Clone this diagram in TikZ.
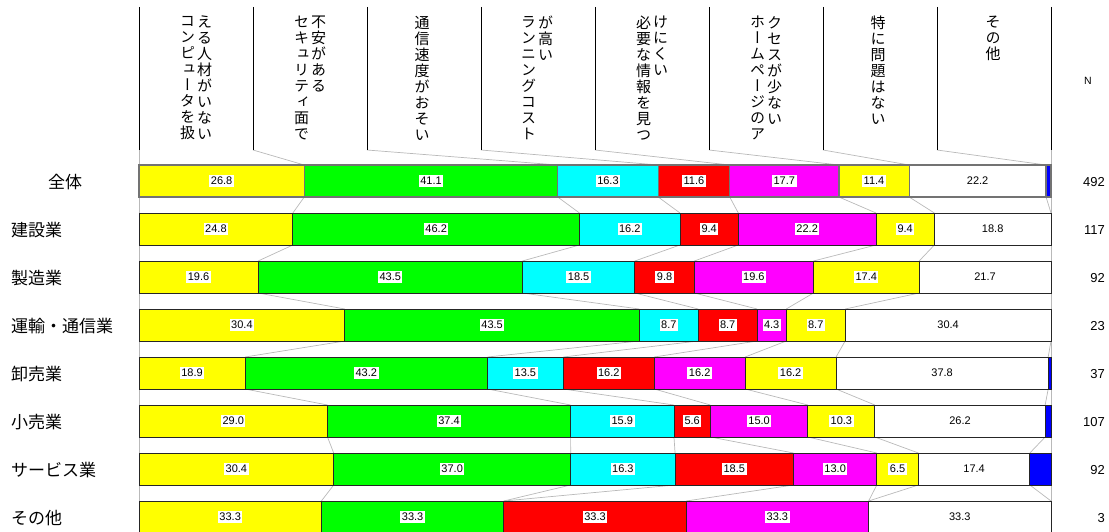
\documentclass[tikz,border=0pt]{standalone}
\usepackage{fontspec}
\setmainfont{Liberation Sans}
\newfontfamily\jpfont{Noto Sans CJK JP}
\newfontfamily\jpvert[RawFeature=+vert]{Noto Sans CJK JP}
\usetikzlibrary{calc}

\definecolor{cyel}{RGB}{255,255,0}
\definecolor{cgrn}{RGB}{0,255,0}
\definecolor{ccya}{RGB}{0,255,255}
\definecolor{cred}{RGB}{255,0,0}
\definecolor{cmag}{RGB}{255,0,255}
\definecolor{cblu}{RGB}{0,0,255}

\tikzset{
  segnormal/.style={draw=black!85, line width=0.9pt},
  segtotal/.style={draw=black!55, line width=1.3pt},
  segcur/.style={segnormal},
  conn/.style={draw=gray!55, line width=0.7pt},
  hline/.style={draw=black, line width=0.9pt},
  vallabel/.style={fill=white, inner xsep=1.5pt, inner ysep=2pt, text depth=0pt, font=\fontsize{11}{11}\selectfont},
  hdr/.style={anchor=north, inner sep=0pt, align=center, font=\jpvert\fontsize{15}{16}\selectfont},
  rowlab/.style={inner sep=0pt, font=\jpfont\fontsize{17}{17}\selectfont},
  cnt/.style={anchor=east, inner sep=0pt, font=\fontsize{13}{13}\selectfont},
}

% #1 row, #2 left index, #3 right index, #4 colour, #5 value, #6 label? (1/0)
\newcommand\segbox[6]{%
  \ifdim #5pt>0pt
    \path[fill=#4, segcur] (t#1-#2) rectangle (u#1-#3);
    \ifnum#6=1
      \node[vallabel] (v#1-#2) at ($(t#1-#2)!0.5!(u#1-#3)$) {#5};
    \fi
  \fi}

% #1 row, #2..#9 values
\newcommand\barrow[9]{%
  \pgfmathsetmacro\tot{#2+#3+#4+#5+#6+#7+#8+#9}%
  \pgfmathsetmacro\yt{165+48*#1}%
  \pgfmathsetmacro\yb{\yt+32}%
  \pgfmathsetmacro\xa{139}%
  \pgfmathsetmacro\xb{139+912*((#2)/\tot)}%
  \pgfmathsetmacro\xc{139+912*((#2+#3)/\tot)}%
  \pgfmathsetmacro\xd{139+912*((#2+#3+#4)/\tot)}%
  \pgfmathsetmacro\xe{139+912*((#2+#3+#4+#5)/\tot)}%
  \pgfmathsetmacro\xf{139+912*((#2+#3+#4+#5+#6)/\tot)}%
  \pgfmathsetmacro\xg{139+912*((#2+#3+#4+#5+#6+#7)/\tot)}%
  \pgfmathsetmacro\xh{139+912*((#2+#3+#4+#5+#6+#7+#8)/\tot)}%
  \pgfmathsetmacro\xi{1051}%
  \coordinate (t#1-0) at (\xa,\yt); \coordinate (u#1-0) at (\xa,\yb);
  \coordinate (t#1-1) at (\xb,\yt); \coordinate (u#1-1) at (\xb,\yb);
  \coordinate (t#1-2) at (\xc,\yt); \coordinate (u#1-2) at (\xc,\yb);
  \coordinate (t#1-3) at (\xd,\yt); \coordinate (u#1-3) at (\xd,\yb);
  \coordinate (t#1-4) at (\xe,\yt); \coordinate (u#1-4) at (\xe,\yb);
  \coordinate (t#1-5) at (\xf,\yt); \coordinate (u#1-5) at (\xf,\yb);
  \coordinate (t#1-6) at (\xg,\yt); \coordinate (u#1-6) at (\xg,\yb);
  \coordinate (t#1-7) at (\xh,\yt); \coordinate (u#1-7) at (\xh,\yb);
  \coordinate (t#1-8) at (\xi,\yt); \coordinate (u#1-8) at (\xi,\yb);
}
\newcommand\barfill[9]{%
  \segbox{#1}{0}{1}{cyel}{#2}{1}%
  \segbox{#1}{1}{2}{cgrn}{#3}{1}%
  \segbox{#1}{2}{3}{ccya}{#4}{1}%
  \segbox{#1}{3}{4}{cred}{#5}{1}%
  \segbox{#1}{4}{5}{cmag}{#6}{1}%
  \segbox{#1}{5}{6}{cyel}{#7}{1}%
  \segbox{#1}{6}{7}{white}{#8}{1}%
  \segbox{#1}{7}{8}{cblu}{#9}{0}%
}

\begin{document}
\begin{tikzpicture}[x=1pt,y=-1pt]
\useasboundingbox (0,0) rectangle (1109,532);

% coordinates of all bars
\barrow{0}{26.8}{41.1}{16.3}{11.6}{17.7}{11.4}{22.2}{0.8}
\barrow{1}{24.8}{46.2}{16.2}{9.4}{22.2}{9.4}{18.8}{0}
\barrow{2}{19.6}{43.5}{18.5}{9.8}{19.6}{17.4}{21.7}{0}
\barrow{3}{30.4}{43.5}{8.7}{8.7}{4.3}{8.7}{30.4}{0}
\barrow{4}{18.9}{43.2}{13.5}{16.2}{16.2}{16.2}{37.8}{0.5}
\barrow{5}{29.0}{37.4}{15.9}{5.6}{15.0}{10.3}{26.2}{0.9}
\barrow{6}{30.4}{37.0}{16.3}{18.5}{13.0}{6.5}{17.4}{3.3}
\barrow{7}{33.3}{33.3}{0}{33.3}{33.3}{0}{33.3}{0}

% connectors between bars
\foreach \r in {0,...,6}{
  \pgfmathtruncatemacro\s{\r+1}
  \foreach \i in {0,...,8}{
    \draw[conn] (u\r-\i) -- (t\s-\i);
  }
}

% header lines
\foreach \i/\x in {0/139,1/253,2/367,3/481,4/595,5/709,6/823,7/937,8/1051}{
  \coordinate (ht\i) at (\x,7);
  \coordinate (hb\i) at (\x,150);
  \draw[conn] (hb\i) -- (t0-\i);
  \draw[hline] (ht\i) -- (hb\i);
}

% bars
\tikzset{segcur/.style={segtotal}}
\barfill{0}{26.8}{41.1}{16.3}{11.6}{17.7}{11.4}{22.2}{0.8}
\tikzset{segcur/.style={segnormal}}
\barfill{1}{24.8}{46.2}{16.2}{9.4}{22.2}{9.4}{18.8}{0}
\barfill{2}{19.6}{43.5}{18.5}{9.8}{19.6}{17.4}{21.7}{0}
\barfill{3}{30.4}{43.5}{8.7}{8.7}{4.3}{8.7}{30.4}{0}
\barfill{4}{18.9}{43.2}{13.5}{16.2}{16.2}{16.2}{37.8}{0.5}
\barfill{5}{29.0}{37.4}{15.9}{5.6}{15.0}{10.3}{26.2}{0.9}
\barfill{6}{30.4}{37.0}{16.3}{18.5}{13.0}{6.5}{17.4}{3.3}
\barfill{7}{33.3}{33.3}{0}{33.3}{33.3}{0}{33.3}{0}

% header texts
\node[hdr] (h1a) at (187.5,16) {コ\\ン\\ピ\\ュ\\ー\\タ\\を\\扱};
\node[hdr] (h1b) at (204.5,16) {え\\る\\人\\材\\が\\い\\な\\い};
\node[hdr] (h2a) at (301.5,16) {セ\\キ\\ュ\\リ\\テ\\ィ\\面\\で};
\node[hdr] (h2b) at (318.5,16) {不\\安\\が\\あ\\る};
\node[hdr] (h3a) at (422,16) {通\\信\\速\\度\\が\\お\\そ\\い};
\node[hdr] (h4a) at (528.5,16) {ラ\\ン\\ニ\\ン\\グ\\コ\\ス\\ト};
\node[hdr] (h4b) at (545.5,16) {が\\高\\い};
\node[hdr] (h5a) at (643.5,16) {必\\要\\な\\情\\報\\を\\見\\つ};
\node[hdr] (h5b) at (660.5,16) {け\\に\\く\\い};
\node[hdr] (h6a) at (757.5,16) {ホ\\ー\\ム\\ペ\\ー\\ジ\\の\\ア};
\node[hdr] (h6b) at (774.5,16) {ク\\セ\\ス\\が\\少\\な\\い};
\node[hdr] (h7a) at (878,16) {特\\に\\問\\題\\は\\な\\い};
\node[hdr] (h8a) at (993,16) {そ\\の\\他};

\node[inner sep=0pt, font=\fontsize{10.5}{11}\selectfont] (nhead) at (1088,81) {N};

% row labels
\node[rowlab] (r0) at (65,182) {全体};
\node[rowlab, anchor=west] (r1) at (11,230) {建設業};
\node[rowlab, anchor=west] (r2) at (11,278) {製造業};
\node[rowlab, anchor=west] (r3) at (11,326) {運輸・通信業};
\node[rowlab, anchor=west] (r4) at (11,374) {卸売業};
\node[rowlab, anchor=west] (r5) at (11,422) {小売業};
\node[rowlab, anchor=west] (r6) at (11,470) {サービス業};
\node[rowlab, anchor=west] (r7) at (11,518) {その他};

% counts
\node[cnt] (n0) at (1105,182) {492};
\node[cnt] (n1) at (1105,230) {117};
\node[cnt] (n2) at (1105,278) {92};
\node[cnt] (n3) at (1105,326) {23};
\node[cnt] (n4) at (1105,374) {37};
\node[cnt] (n5) at (1105,422) {107};
\node[cnt] (n6) at (1105,470) {92};
\node[cnt] (n7) at (1105,518) {3};
\end{tikzpicture}
\end{document}
